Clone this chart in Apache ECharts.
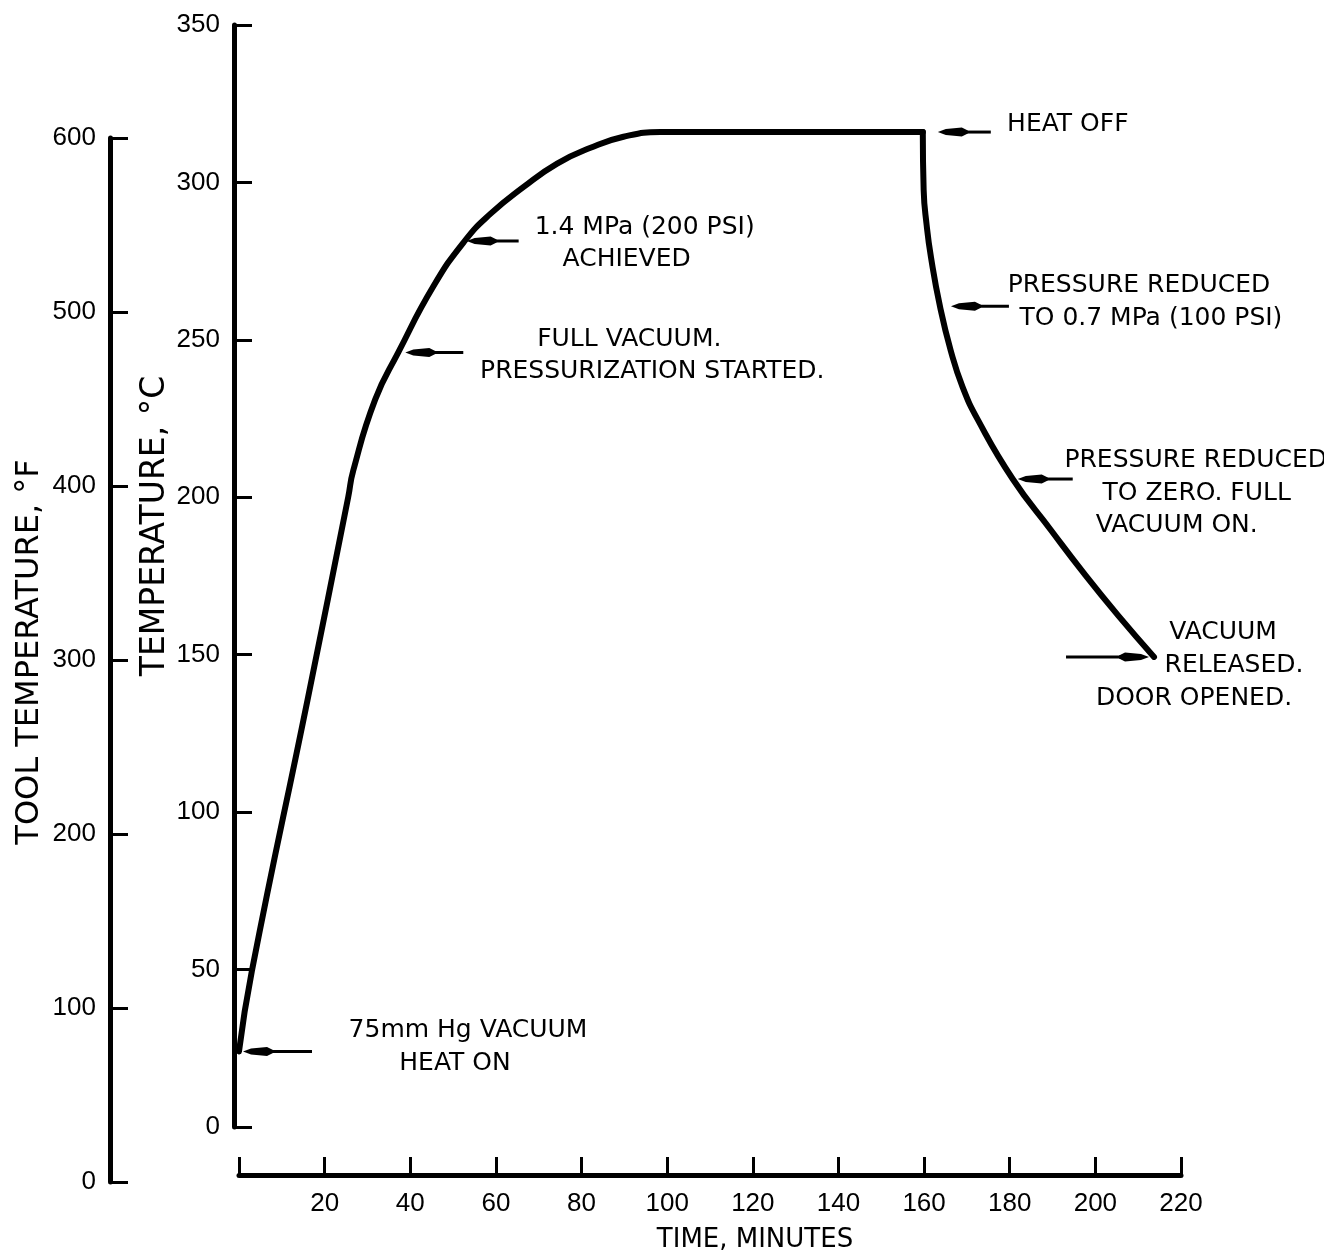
<!DOCTYPE html>
<html>
<head>
<meta charset="utf-8">
<script src="https://cdn.jsdelivr.net/npm/echarts/dist/echarts.min.js"></script>
<style>html,body{margin:0;padding:0;background:#fff}#c{width:1324px;height:1255px}</style>
</head>
<body>
<div id="c"></div>
<script>
// ---- data ----
const timeMin = [0, 3.0, 16, 25.5, 26.7, 31.8, 37.2, 45.4, 52.7, 58.7, 66.4, 74.3, 82.1, 89.8, 98.4,
                 159.7, 159.9, 160.6, 161.6, 163.7, 166.2, 169.0, 172.6, 180.7, 189.6, 197.3, 205.3, 213.7];
const tempC   = [24, 49.5, 135.6, 200, 208.6, 231, 246, 267, 281.4, 290, 298.5, 306, 311, 314.5, 316,
                 316, 297.6, 286.4, 276.3, 260.7, 246.7, 235, 224.5, 205.8, 189.6, 175.9, 162.5, 149.3];
const heatOffIndex = 15; // curve splits here: heating/hold vs. cool-down
const timeTicks = [0, 20, 40, 60, 80, 100, 120, 140, 160, 180, 200, 220];
const timeTickLabels = ['', '20', '40', '60', '80', '100', '120', '140', '160', '180', '200', '220'];
const celsiusTicks = [0, 50, 100, 150, 200, 250, 300, 350];
const fahrenheitTicks = [0, 100, 200, 300, 400, 500, 600];
const noteLines = [
  ['75mm Hg VACUUM', 'HEAT ON'],
  ['FULL VACUUM.', 'PRESSURIZATION STARTED.'],
  ['1.4 MPa (200 PSI)', 'ACHIEVED'],
  ['HEAT OFF'],
  ['PRESSURE REDUCED', 'TO 0.7 MPa (100 PSI)'],
  ['PRESSURE REDUCED', 'TO ZERO. FULL', 'VACUUM ON.'],
  ['VACUUM', 'RELEASED.', 'DOOR OPENED.']
];
const notePointIndex = [0, 6, 8, 15, 19, 23, 27];
const xTitle = 'TIME, MINUTES';
const cTitle = 'TEMPERATURE, °C';
const fTitle = 'TOOL TEMPERATURE, °F';

// ---- layout (pixels, relative to the annotated curve point) ----
const noteLayout = [
  {gap: 4,  len: 69,  text: [[229, -21], [216, 12]]},
  {gap: 7,  len: 58,  text: [[231, -13], [254, 19]]},
  {gap: 2,  len: 52,  text: [[180, -13], [162, 19]]},
  {gap: 15, len: 53,  text: [[145, -8]]},
  {gap: 11, len: 58,  text: [[199, -21], [211, 12]]},
  {gap: 5,  len: 55,  text: [[183, -19], [184, 14], [164, 46]]},
  {gap: -5, len: -83, text: [[69, -24], [80, 9], [40, 42]]}
];

const tickFont = 'Liberation Sans';
const noteFont = '25px "DejaVu Sans"';

const chart = echarts.init(document.getElementById('c'));
const last = a => a[a.length - 1];
const pts = timeMin.map((t, i) => [t, tempC[i]]);
const lineStyle = {color: '#000', width: 6, cap: 'round', join: 'round'};

const option = {
  animation: false,
  backgroundColor: '#ffffff',
  grid: [
    {left: 239, top: 25, width: 942, height: 1102},
    {left: 110, top: 138, width: 10, height: 1044}
  ],
  xAxis: [
    {
      gridIndex: 0, type: 'value', min: timeTicks[0], max: last(timeTicks),
      interval: timeTicks[1] - timeTicks[0], position: 'bottom', offset: 48,
      axisLine: {show: true, onZero: false, lineStyle: {color: '#000', width: 5}},
      axisTick: {show: true, inside: true, length: 18, lineStyle: {color: '#000', width: 3}},
      axisLabel: {margin: 16, color: '#000', fontSize: 26, fontFamily: tickFont,
        formatter: v => timeTickLabels[timeTicks.indexOf(v)] ?? ''},
      splitLine: {show: false}
    },
    {gridIndex: 1, type: 'value', show: false, min: 0, max: 1}
  ],
  yAxis: [
    {
      gridIndex: 0, type: 'value', min: celsiusTicks[0], max: last(celsiusTicks),
      interval: celsiusTicks[1] - celsiusTicks[0], offset: 5,
      axisLine: {show: true, onZero: false, lineStyle: {color: '#000', width: 5}},
      axisTick: {show: true, inside: true, length: 18, lineStyle: {color: '#000', width: 3}},
      axisLabel: {margin: 14, color: '#000', fontSize: 26, fontFamily: tickFont},
      splitLine: {show: false}
    },
    {
      gridIndex: 1, type: 'value', min: fahrenheitTicks[0], max: last(fahrenheitTicks),
      interval: fahrenheitTicks[1] - fahrenheitTicks[0],
      axisLine: {show: true, onZero: false, lineStyle: {color: '#000', width: 5}},
      axisTick: {show: true, inside: true, length: 18, lineStyle: {color: '#000', width: 3}},
      axisLabel: {margin: 14, color: '#000', fontSize: 26, fontFamily: tickFont},
      splitLine: {show: false}
    }
  ],
  series: [
    {type: 'line', xAxisIndex: 0, yAxisIndex: 0, data: pts.slice(0, heatOffIndex + 1),
     symbol: 'none', smooth: 0.5, lineStyle: lineStyle},
    {type: 'line', xAxisIndex: 0, yAxisIndex: 0, data: pts.slice(heatOffIndex),
     symbol: 'none', smooth: 0.5, lineStyle: lineStyle}
  ]
};
chart.setOption(option);

// ---- annotations: arrows + text anchored to curve points through the axes ----
const graphics = [];
notePointIndex.forEach((idx, n) => {
  const p = chart.convertToPixel({xAxisIndex: 0, yAxisIndex: 0}, [timeMin[idx], tempC[idx]]);
  const L = noteLayout[n];
  const tipX = p[0] + L.gap, y = p[1];
  const tailX = tipX + L.len;
  const d = Math.sign(L.len);
  graphics.push({type: 'line', shape: {x1: tipX + d * 26, y1: y, x2: tailX, y2: y},
    style: {stroke: '#000', lineWidth: 3}});
  graphics.push({type: 'polygon', shape: {points: [
    [tipX, y], [tipX + d * 8, y - 3], [tipX + d * 24, y - 4.5], [tipX + d * 30, y - 1.5],
    [tipX + d * 30, y + 1.5], [tipX + d * 24, y + 4.5], [tipX + d * 8, y + 3]]},
    style: {fill: '#000'}});
  noteLines[n].forEach((txt, k) => {
    graphics.push({type: 'text', x: p[0] + L.text[k][0], y: y + L.text[k][1],
      style: {text: txt, font: noteFont, fill: '#000', align: 'center', verticalAlign: 'middle'}});
  });
});
graphics.push({type: 'text', x: 755, y: 1240,
  style: {text: xTitle, font: '26px "DejaVu Sans"', fill: '#000', align: 'center', verticalAlign: 'middle'}});
graphics.push({type: 'text', x: 155, y: 526, rotation: Math.PI / 2,
  style: {text: cTitle, font: '33px "DejaVu Sans"', fill: '#000', align: 'center', verticalAlign: 'middle'}});
graphics.push({type: 'text', x: 30, y: 652, rotation: Math.PI / 2,
  style: {text: fTitle, font: '32px "DejaVu Sans"', fill: '#000', align: 'center', verticalAlign: 'middle'}});
chart.setOption({graphic: graphics});
</script>
</body>
</html>
